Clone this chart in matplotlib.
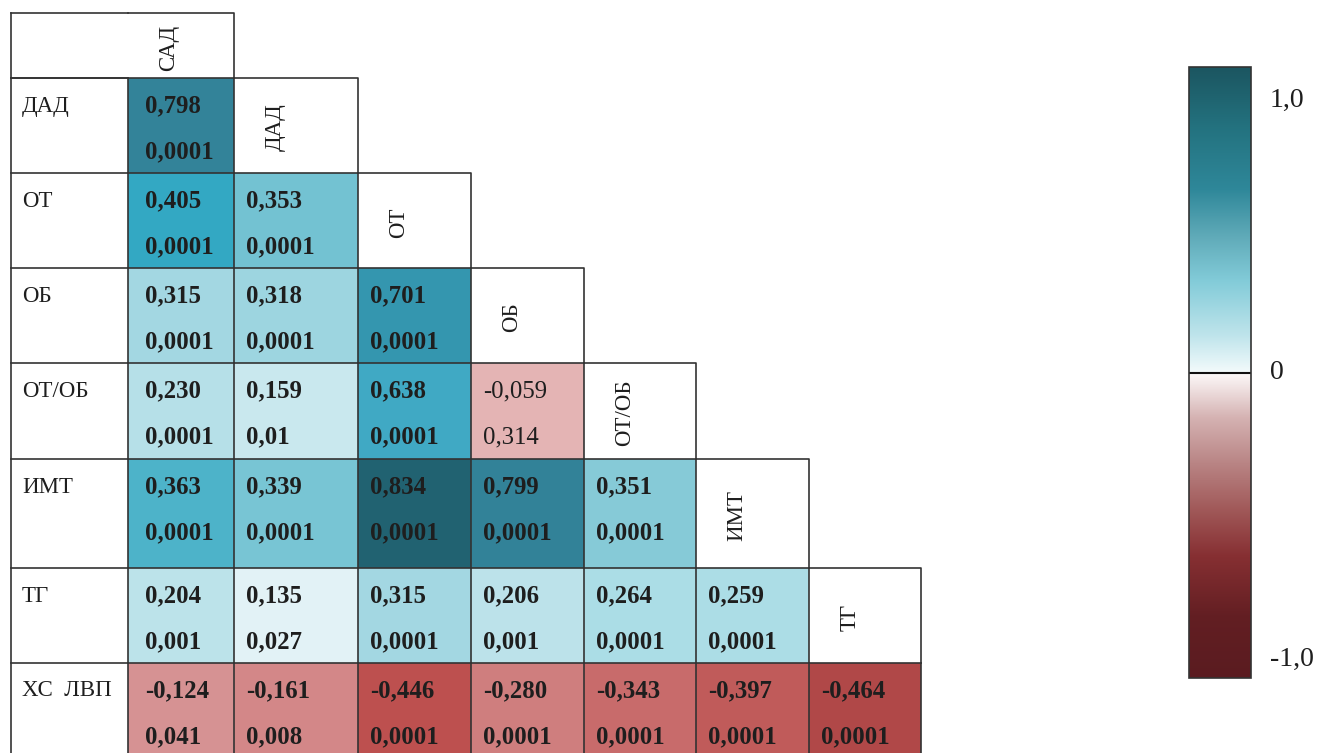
import numpy as np
import matplotlib.pyplot as plt
from matplotlib.colors import LinearSegmentedColormap, Normalize
from matplotlib.cm import ScalarMappable

plt.rcParams['font.family'] = ['Liberation Serif', 'DejaVu Serif']

labels = ['САД', 'ДАД', 'ОТ', 'ОБ', 'ОТ/ОБ', 'ИМТ', 'ТГ', 'ХС  ЛВП']

# lower triangle: correlation coefficients and p-values (row i vs column j, j < i)
r_rows = [
    [],
    [0.798],
    [0.405, 0.353],
    [0.315, 0.318, 0.701],
    [0.230, 0.159, 0.638, -0.059],
    [0.363, 0.339, 0.834, 0.799, 0.351],
    [0.204, 0.135, 0.315, 0.206, 0.264, 0.259],
    [-0.124, -0.161, -0.446, -0.280, -0.343, -0.397, -0.464],
]
p_rows = [
    [],
    [0.0001],
    [0.0001, 0.0001],
    [0.0001, 0.0001, 0.0001],
    [0.0001, 0.01, 0.0001, 0.314],
    [0.0001, 0.0001, 0.0001, 0.0001, 0.0001],
    [0.001, 0.027, 0.0001, 0.001, 0.0001, 0.0001],
    [0.041, 0.008, 0.0001, 0.0001, 0.0001, 0.0001, 0.0001],
]

# table grid in pixels
col_edges = [11, 128, 234, 358, 471, 584, 696, 809, 921]
row_edges = [13, 78, 173, 268, 363, 459, 568, 663, 758]

cell_stops = [
    (-1.0, '#7a2020'), (-0.464, '#b04848'), (-0.446, '#bd504f'),
    (-0.397, '#c05b5a'), (-0.343, '#c86b6b'), (-0.28, '#cf7e7e'),
    (-0.161, '#d38788'), (-0.124, '#d69293'), (-0.059, '#e4b4b4'),
    (0.0, '#f4fafc'), (0.135, '#e2f2f6'), (0.16, '#c8e8ee'),
    (0.2, '#bde3ea'), (0.23, '#b6e0e8'), (0.26, '#acdde6'),
    (0.315, '#a3d7e2'), (0.339, '#77c5d4'), (0.351, '#88cbd8'),
    (0.353, '#74c2d2'), (0.363, '#4db3c9'),
    (0.405, '#33a8c3'), (0.64, '#40a9c4'), (0.70, '#3496af'),
    (0.798, '#33849a'), (0.834, '#216271'), (1.0, '#174e5a'),
]
bar_stops = [
    (-1.0, '#5a1b20'), (-0.8, '#621e22'), (-0.6, '#862f32'),
    (-0.45, '#a05858'), (-0.3, '#b88383'), (-0.15, '#d4b1b1'),
    (0.0, '#fdfafa'), (0.001, '#f2fafb'), (0.12, '#bfe4eb'),
    (0.3, '#82cbd8'), (0.45, '#5ea9b7'), (0.6, '#2e8799'),
    (0.8, '#23727f'), (1.0, '#1b5560'),
]

def make_cmap(stops):
    return LinearSegmentedColormap.from_list(
        'corr', [((v + 1) / 2, c) for v, c in stops], N=2048)

norm = Normalize(-1, 1)
cell_cmap = make_cmap(cell_stops)
bar_cmap = make_cmap(bar_stops)

n = len(labels)
m = n - 1  # number of value columns
r = np.full((n, m), np.nan)
for i, row in enumerate(r_rows):
    r[i, :len(row)] = row
grid = np.ma.masked_invalid(r)

fig = plt.figure(figsize=(13.2, 7.53), dpi=100)
ax = fig.add_axes([0, 0, 1, 1])
ax.set_xlim(0, 1320)
ax.set_ylim(753, 0)
ax.axis('off')

ax.pcolormesh(col_edges[1:], row_edges, grid, cmap=cell_cmap, norm=norm)

lw = 1.2
lc = '#333333'
txt = '#1e1e1e'

# outer left border and header corner
ax.plot([col_edges[0]] * 2, [row_edges[0], row_edges[-1]], color=lc, lw=lw)
ax.plot([col_edges[0], col_edges[1]], [row_edges[0]] * 2, color=lc, lw=lw)

# diagonal cells with column names
for k in range(m):
    x0, x1 = col_edges[k + 1], col_edges[k + 2]
    y0, y1 = row_edges[k], row_edges[k + 1]
    ax.plot([x0, x1, x1], [y0, y0, y1], color=lc, lw=lw)
    ax.text(x0 + 41, (y0 + y1) / 2 + 2, labels[k], rotation=90, ha='center',
            va='center', fontsize=16.5, color=txt)

# data rows
for i in range(1, n):
    y0, y1 = row_edges[i], row_edges[i + 1]
    ax.plot([col_edges[0], col_edges[i + 1]], [y0, y0], color=lc, lw=lw)
    for j in range(i + 1):
        ax.plot([col_edges[j + 1]] * 2, [y0, y1], color=lc, lw=lw)
    ax.text(col_edges[0] + 11, y0 + 28, labels[i], ha='left', va='center',
            fontsize=16.5, color=txt)
    for j in range(i):
        val, p = r[i, j], p_rows[i][j]
        weight = 'bold' if p < 0.05 else 'normal'
        xl = col_edges[j + 1] + (17 if j == 0 else 12)
        ax.text(xl, y0 + 28, f'{val:.3f}'.replace('.', ','), ha='left',
                va='center', fontsize=17.8, fontweight=weight, color=txt)
        ax.text(xl, y0 + 74, str(p).replace('.', ','), ha='left',
                va='center', fontsize=17.8, fontweight=weight, color=txt)
# first header row bottom edge
ax.plot([col_edges[0], col_edges[1]], [row_edges[1]] * 2, color=lc, lw=lw)

# colour scale
cax = fig.add_axes([1189 / 1320, (753 - 678) / 753, 62 / 1320, 611 / 753])
cb = fig.colorbar(ScalarMappable(norm=norm, cmap=bar_cmap), cax=cax)
cb.set_ticks([])
cb.outline.set_edgecolor('#333333')
cb.outline.set_linewidth(1.2)
cax.axhline(0, color='#111111', lw=1.5)
for yv, s in [(0.946, '1,0'), (0.5, '0'), (0.03, '-1,0')]:
    cax.text(1.3, yv, s, transform=cax.transAxes, ha='left', va='center',
             fontsize=20, color=txt)

fig.savefig('out.png', dpi=100)
